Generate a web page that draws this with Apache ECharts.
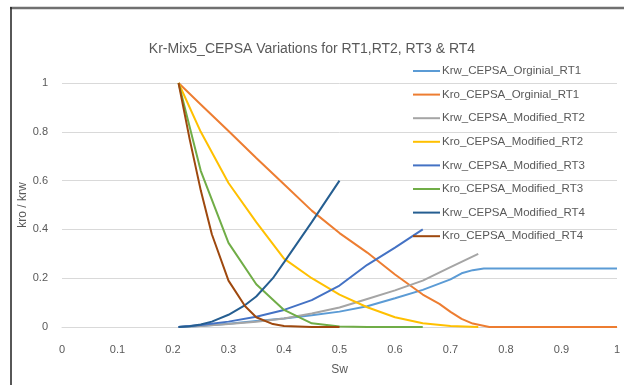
<!DOCTYPE html>
<html>
<head>
<meta charset="utf-8">
<script src="https://cdn.jsdelivr.net/npm/echarts@6/dist/echarts.min.js"></script>
<style>html,body{margin:0;padding:0;background:#fff;}#c{width:624px;height:385px;}</style>
</head>
<body>
<div id="c"></div>
<script>
var seriesNames = ["Krw_CEPSA_Orginial_RT1","Kro_CEPSA_Orginial_RT1","Krw_CEPSA_Modified_RT2","Kro_CEPSA_Modified_RT2","Krw_CEPSA_Modified_RT3","Kro_CEPSA_Modified_RT3","Krw_CEPSA_Modified_RT4","Kro_CEPSA_Modified_RT4"];
var colors = ["#5B9BD5","#ED7D31","#A5A5A5","#FFC000","#4472C4","#70AD47","#255E91","#9E480E"];

var sw1w = [0.21,0.25,0.3,0.35,0.4,0.45,0.5,0.55,0.6,0.65,0.7,0.72,0.74,0.76,0.8,0.85,0.9,0.95,1.0];
var krw1 = [0,0.004,0.013,0.025,0.035,0.048,0.063,0.085,0.118,0.152,0.195,0.22,0.233,0.24,0.24,0.24,0.24,0.24,0.24];
var sw1o = [0.21,0.25,0.3,0.35,0.4,0.45,0.5,0.55,0.6,0.65,0.68,0.7,0.72,0.74,0.77,0.8,0.85,0.9,0.95,1.0];
var kro1 = [1,0.912,0.803,0.693,0.585,0.477,0.385,0.305,0.215,0.133,0.095,0.062,0.033,0.014,0,0,0,0,0,0];
var sw2 = [0.21,0.25,0.3,0.35,0.4,0.45,0.5,0.55,0.6,0.65,0.7,0.75];
var krw2 = [0,0.004,0.012,0.022,0.035,0.055,0.08,0.115,0.15,0.19,0.245,0.3];
var kro2 = [1,0.8,0.59,0.43,0.28,0.2,0.133,0.081,0.04,0.015,0.004,0];
var sw3 = [0.21,0.25,0.3,0.35,0.4,0.45,0.5,0.55,0.6,0.65];
var krw3 = [0,0.008,0.022,0.042,0.07,0.11,0.17,0.255,0.325,0.4];
var kro3 = [1,0.64,0.345,0.175,0.07,0.015,0.002,0,0,0];
var sw4 = [0.21,0.23,0.25,0.27,0.3,0.33,0.35,0.38,0.4,0.45,0.5];
var krw4 = [0,0.003,0.01,0.022,0.05,0.09,0.125,0.2,0.265,0.43,0.6];
var kro4 = [1,0.77,0.56,0.38,0.19,0.085,0.04,0.012,0.004,0,0];

var xTicks = [0,0.1,0.2,0.3,0.4,0.5,0.6,0.7,0.8,0.9,1];
var yTicks = [0,0.2,0.4,0.6,0.8,1];

function pairs(xs, ys){ return xs.map(function(x,i){ return [x, ys[i]]; }); }
var dataSets = [pairs(sw1w,krw1), pairs(sw1o,kro1), pairs(sw2,krw2), pairs(sw2,kro2), pairs(sw3,krw3), pairs(sw3,kro3), pairs(sw4,krw4), pairs(sw4,kro4)];

var font = "'Liberation Sans',Arial,sans-serif";
var chart = echarts.init(document.getElementById('c'), null, {renderer:'canvas'});
chart.setOption({
  animation:false,
  backgroundColor:'#fff',
  color: colors,
  title:{ text:'Kr-Mix5_CEPSA Variations for RT1,RT2, RT3 & RT4', left:'center', top:37,
    textStyle:{ fontFamily:font, fontSize:14, fontWeight:'normal', color:'#595959' } },
  grid:{ left:62, right:7, top:83, bottom:58, containLabel:false },
  legend:{ orient:'vertical', left:413, top:63, padding:0, icon:'rect', itemWidth:27, itemHeight:2, itemGap:7.6,
    data: seriesNames,
    textStyle:{ fontFamily:font, fontSize:11.5, lineHeight:16, color:'#595959', padding:[0,0,0,-3] } },
  xAxis:{ type:'value', min:xTicks[0], max:xTicks[xTicks.length-1], interval:0.1,
    name:'Sw', nameLocation:'middle', nameGap:37,
    nameTextStyle:{ fontFamily:font, fontSize:12, color:'#595959' },
    axisLine:{ show:true, lineStyle:{ color:'#d9d9d9', width:1 } },
    axisTick:{ show:false }, splitLine:{ show:false },
    axisLabel:{ fontFamily:font, fontSize:11, color:'#595959', margin:17,
      formatter:function(v){ return String(Math.round(v*10)/10); } } },
  yAxis:{ type:'value', min:yTicks[0], max:yTicks[yTicks.length-1], interval:0.2,
    name:'kro / krw', nameLocation:'middle', nameGap:33, nameMoveOverlap:false,
    nameTextStyle:{ fontFamily:font, fontSize:12, color:'#595959' },
    axisLine:{ show:false }, axisTick:{ show:false },
    splitLine:{ show:true, lineStyle:{ color:'#d9d9d9', width:1 } },
    axisLabel:{ fontFamily:font, fontSize:11, color:'#595959', margin:14,
      formatter:function(v){ return String(Math.round(v*10)/10); } } },
  graphic:[
    { type:'line', shape:{ x1:10, y1:8, x2:624, y2:8 }, style:{ stroke:'#707070', lineWidth:2.5 }, silent:true },
    { type:'line', shape:{ x1:11, y1:7, x2:11, y2:385 }, style:{ stroke:'#1f1f1f', lineWidth:1.5 }, silent:true }
  ],
  series: seriesNames.map(function(n,i){
    return { name:n, type:'line', data:dataSets[i], symbol:'none', showSymbol:false,
      lineStyle:{ width:2, color:colors[i] }, itemStyle:{ color:colors[i] }, smooth:false };
  })
});
</script>
</body>
</html>
